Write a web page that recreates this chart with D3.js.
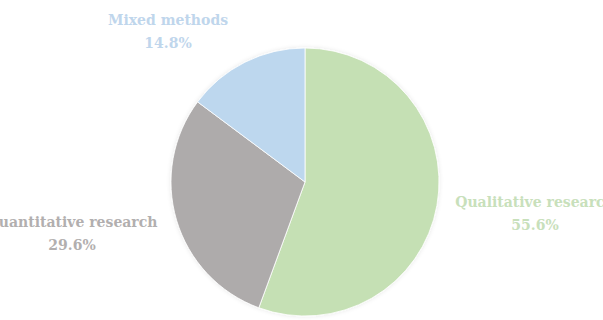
<!DOCTYPE html>
<html><head><meta charset="utf-8">
<script src="https://cdn.jsdelivr.net/npm/d3@7"></script>
<style>html,body{margin:0;padding:0;background:#fff;overflow:hidden}</style>
</head><body>
<svg id="c" width="603" height="320"></svg>
<script>
const categories = ["Qualitative research", "Quantitative research", "Mixed methods"];
const values = [55.6, 29.6, 14.8];
const labels = ["55.6%", "29.6%", "14.8%"];
const colors = ["#c5e0b4", "#aeabab", "#bdd7ee"];
const labelColors = ["#c8e0bb", "#b2afaf", "#bfd6ec"];

const svg = d3.select("#c");
const cx = 305, cy = 182, r = 134;
const defs = svg.append("defs");
const f = defs.append("filter").attr("id","sh").attr("x","-10%").attr("y","-10%").attr("width","120%").attr("height","120%");
f.append("feGaussianBlur").attr("in","SourceAlpha").attr("stdDeviation",2).attr("result","b");
f.append("feFlood").attr("flood-color","#000").attr("flood-opacity",0.1);
f.append("feComposite").attr("in2","b").attr("operator","in").attr("result","s");
const m = f.append("feMerge");
m.append("feMergeNode").attr("in","s");
m.append("feMergeNode").attr("in","SourceGraphic");

const data = categories.map((c,i)=>({cat:c, value:values[i], label:labels[i], color:colors[i], lc:labelColors[i]}));
const pie = d3.pie().sort(null).value(d=>d.value);
const arc = d3.arc().innerRadius(0).outerRadius(r);
const g = svg.append("g").attr("transform",`translate(${cx},${cy})`).attr("filter","url(#sh)");
g.selectAll("path").data(pie(data)).join("path")
  .attr("d", arc).attr("fill", d=>d.data.color).attr("stroke","#fff").attr("stroke-width",0.8);

// label anchors (relative to pie centre), placed like the original outside labels
const offsets = [[230, 25], [-233, 45], [-137, -157]];
const lg = svg.append("g").attr("transform",`translate(${cx},${cy})`);
data.forEach((d,i)=>{
  const t = lg.append("text").attr("x", offsets[i][0]).attr("y", offsets[i][1])
    .attr("text-anchor","middle").attr("fill", d.lc)
    .style("font-family","'DejaVu Serif', serif")
    .style("font-weight","bold").style("font-size","14px");
  t.append("tspan").attr("x", offsets[i][0]).attr("dy", 0).text(d.cat);
  t.append("tspan").attr("x", offsets[i][0]).attr("dy", 23).text(d.label);
});
</script>
</body></html>
